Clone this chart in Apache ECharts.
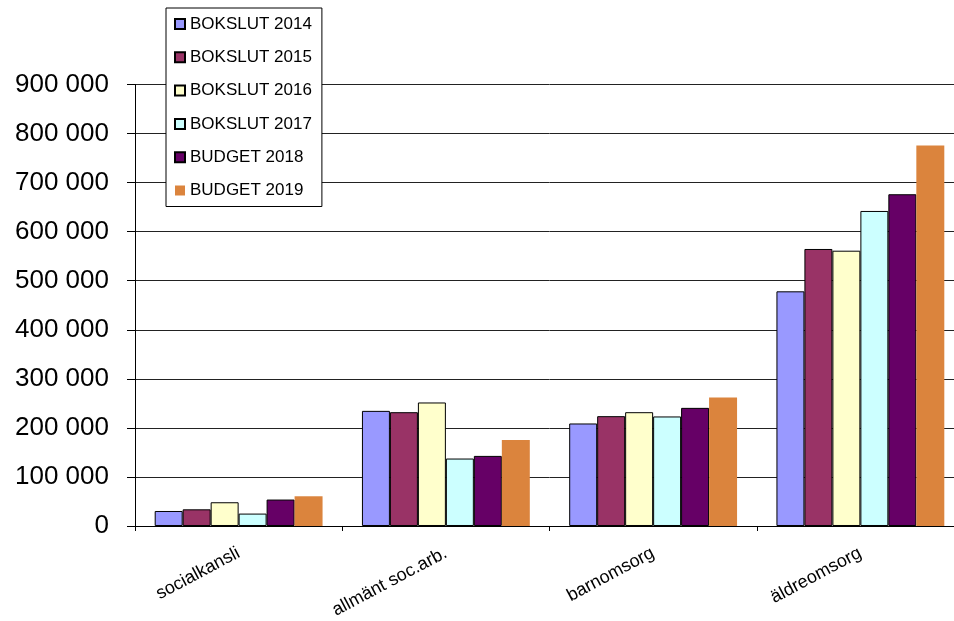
<!DOCTYPE html>
<html>
<head>
<meta charset="utf-8">
<script src="https://cdn.jsdelivr.net/npm/echarts@6/dist/echarts.min.js"></script>
<style>
html,body{margin:0;padding:0;background:#fff;overflow:hidden;width:954px;height:621px;}
#chart{width:964px;height:621px;}
</style>
</head>
<body>
<div id="chart"></div>
<script>
const categories = ['socialkansli', 'allmänt soc.arb.', 'barnomsorg', 'äldreomsorg'];
const seriesNames = ['BOKSLUT 2014', 'BOKSLUT 2015', 'BOKSLUT 2016', 'BOKSLUT 2017', 'BUDGET 2018', 'BUDGET 2019'];
const bokslut2014 = [30600, 234700, 209000, 478400];
const bokslut2015 = [34000, 232000, 223900, 564700];
const bokslut2016 = [48400, 251800, 232000, 561200];
const bokslut2017 = [25300, 137500, 223300, 642200];
const budget2018 = [53900, 142900, 240800, 676300];
const budget2019 = [60600, 175500, 262000, 775500];
const seriesValues = [bokslut2014, bokslut2015, bokslut2016, bokslut2017, budget2018, budget2019];
const colors = ['#9999FF', '#993366', '#FFFFCC', '#CCFFFF', '#660066', '#DB843D'];
const borders = [1, 1, 1, 1, 1, 0];

const font = 'Liberation Sans, Arial, sans-serif';
const chart = echarts.init(document.getElementById('chart'));
chart.setOption({
  animation: false,
  backgroundColor: '#fff',
  grid: { left: 135, top: 84.5, right: 0, bottom: 94.3, containLabel: false },
  legend: {
    orient: 'vertical',
    left: 166, top: 8,
    padding: [6, 10, 6, 8],
    itemWidth: 10, itemHeight: 10,
    itemGap: 13.3,
    icon: 'rect',
    backgroundColor: '#fff',
    borderColor: '#000',
    borderWidth: 1,
    borderRadius: 0,
    z: 10,
    textStyle: { fontFamily: font, fontSize: 17, color: '#000', lineHeight: 20 },
    data: seriesNames
  },
  xAxis: {
    type: 'category',
    data: categories,
    axisLine: { lineStyle: { color: '#000', width: 1 } },
    axisTick: { show: true, length: 5, lineStyle: { color: '#000' } },
    axisLabel: { rotate: 28, margin: 26, fontFamily: font, fontSize: 18, color: '#000', interval: 0 }
  },
  yAxis: {
    type: 'value',
    min: 0, max: 900000, interval: 100000,
    axisLine: { show: true, lineStyle: { color: '#000', width: 1 } },
    axisTick: { show: true, length: 8, lineStyle: { color: '#000' } },
    splitLine: { show: true, lineStyle: { color: '#222', width: 1 } },
    axisLabel: {
      margin: 26, fontFamily: font, fontSize: 26, color: '#000',
      formatter: v => v === 0 ? '0' : String(v).replace(/\B(?=(\d{3})+(?!\d))/g, ' ')
    }
  },
  series: seriesNames.map((name, i) => ({
    name: name,
    type: 'bar',
    data: seriesValues[i],
    barGap: '0%',
    barCategoryGap: '19%',
    itemStyle: { color: colors[i], borderColor: '#000', borderWidth: borders[i] }
  }))
});
</script>
</body>
</html>
